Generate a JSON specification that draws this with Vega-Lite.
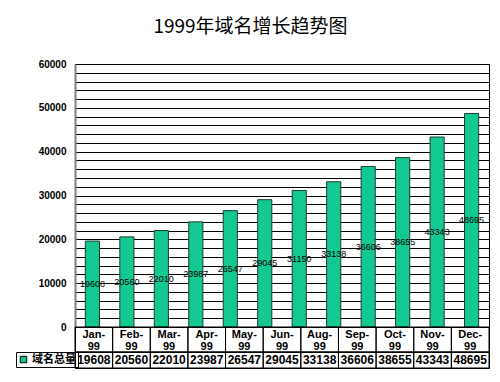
{
  "$schema": "https://vega.github.io/schema/vega-lite/v6.json",
  "padding": {"left": 15, "top": 17, "right": 5, "bottom": 5},
  "background": "white",
  "title": {
    "text": "1999年域名增长趋势图",
    "font": "Noto Sans CJK SC",
    "fontSize": 19,
    "fontWeight": "normal",
    "color": "black",
    "anchor": "middle",
    "offset": 22,
    "dx": -2
  },
  "config": {
    "view": {"stroke": "black", "strokeWidth": 1},
    "axis": {"labelColor": "black", "titleColor": "black"}
  },
  "data": {
    "values": [
      {"month": "Jan-99", "value": 19608},
      {"month": "Feb-99", "value": 20560},
      {"month": "Mar-99", "value": 22010},
      {"month": "Apr-99", "value": 23987},
      {"month": "May-99", "value": 26547},
      {"month": "Jun-99", "value": 29045},
      {"month": "Jul-99", "value": 31150},
      {"month": "Aug-99", "value": 33138},
      {"month": "Sep-99", "value": 36606},
      {"month": "Oct-99", "value": 38655},
      {"month": "Nov-99", "value": 43343},
      {"month": "Dec-99", "value": 48695}
    ]
  },
  "vconcat": [
    {
      "width": 414,
      "height": 263,
      "layer": [
        {
          "mark": {"type": "bar", "stroke": "#1d3d30", "strokeWidth": 1},
          "encoding": {
            "x": {"field": "month", "type": "ordinal", "sort": null,
                  "scale": {"paddingInner": 0.59, "paddingOuter": 0.3}, "axis": null},
            "y": {"field": "value", "type": "quantitative",
                  "scale": {"domain": [0, 60000], "nice": false},
                  "axis": {
                    "values": [0,2000,4000,6000,8000,10000,12000,14000,16000,18000,20000,22000,24000,26000,28000,30000,32000,34000,36000,38000,40000,42000,44000,46000,48000,50000,52000,54000,56000,58000,60000],
                    "labelExpr": "datum.value % 10000 === 0 ? format(datum.value, 'd') : ''",
                    "grid": true, "gridColor": "black", "gridWidth": 1, "gridOpacity": 1,
                    "ticks": false,
                    "domainColor": "#808080", "domainWidth": 2,
                    "labelFont": "Liberation Sans", "labelFontSize": 10, "labelFontWeight": "bold",
                    "labelPadding": 9, "title": null
                  }},
            "color": {"datum": "域名总量", "type": "nominal",
                      "scale": {"range": ["#14C891"]},
                      "legend": {
                        "orient": "none", "legendX": -59, "legendY": 288,
                        "title": null, "symbolType": "square", "symbolSize": 42,
                        "symbolStrokeColor": "black", "symbolStrokeWidth": 1,
                        "labelFont": "Noto Sans CJK SC", "labelFontSize": 11, "labelFontWeight": "bold",
                        "labelColor": "black", "labelOffset": 3,
                        "strokeColor": "black", "padding": 2
                      }}
          }
        },
        {
          "mark": {"type": "text", "font": "Liberation Sans", "fontSize": 9, "color": "black", "baseline": "middle"},
          "encoding": {
            "x": {"field": "month", "type": "ordinal", "sort": null},
            "y": {"field": "value", "type": "quantitative",
                  "scale": {"domain": [0, 120000], "nice": false}, "axis": null},
            "text": {"field": "value", "type": "quantitative", "format": "d"}
          }
        }
      ],
      "resolve": {"scale": {"y": "independent"}}
    },
    {
      "width": 414,
      "height": 25,
      "transform": [{"filter": "datum.month !== 'Jul-99'"}],
      "mark": {"type": "rect", "fillOpacity": 0, "stroke": "black", "strokeWidth": 1},
      "encoding": {
        "x": {"field": "month", "type": "ordinal", "sort": null,
              "scale": {"paddingInner": 0, "paddingOuter": 0},
              "axis": {
                "orient": "bottom", "labelExpr": "[slice(datum.label, 0, 4), slice(datum.label, 4)]",
                "labelAngle": 0, "labelPadding": -24, "ticks": false, "domain": false,
                "labelFont": "Liberation Sans", "labelFontSize": 11, "labelFontWeight": "bold",
                "labelLineHeight": 12, "labelOverlap": false, "labelBaseline": "top",
                "title": null, "zindex": 1
              }}
      }
    },
    {
      "width": 414,
      "height": 16,
      "transform": [{"filter": "datum.month !== 'Jul-99'"}],
      "layer": [
        {
          "mark": {"type": "rect", "fillOpacity": 0, "stroke": "black", "strokeWidth": 1},
          "encoding": {
            "x": {"field": "month", "type": "ordinal", "sort": null,
                  "scale": {"paddingInner": 0, "paddingOuter": 0}, "axis": null}
          }
        },
        {
          "mark": {"type": "text", "font": "Liberation Sans", "fontSize": 12, "fontWeight": "bold", "color": "black", "baseline": "middle"},
          "encoding": {
            "x": {"field": "month", "type": "ordinal", "sort": null},
            "text": {"field": "value", "type": "quantitative", "format": "d"}
          }
        }
      ]
    }
  ],
  "spacing": 0,
  "bounds": "flush",
  "resolve": {"scale": {"x": "independent"}, "legend": {"color": "independent"}}
}
